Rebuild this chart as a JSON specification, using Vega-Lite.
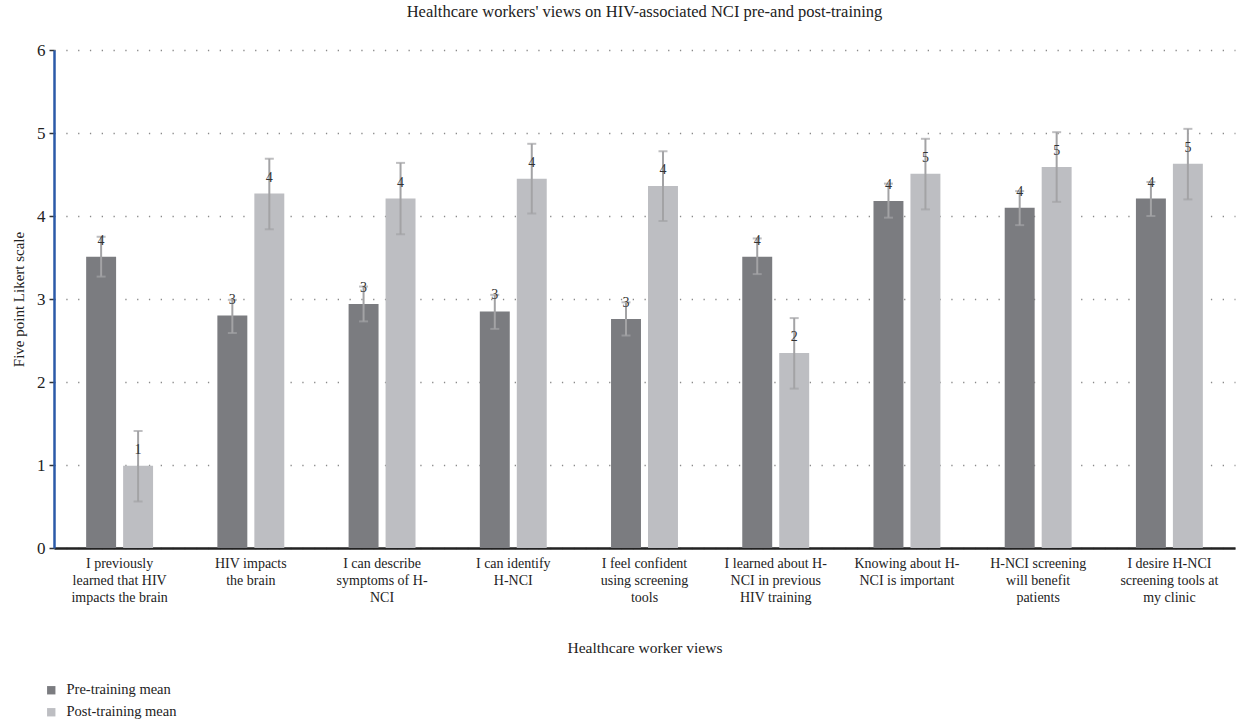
{
  "$schema": "https://vega.github.io/schema/vega-lite/v6.json",
  "autosize": {"type": "none"},
  "padding": {"left": 54, "top": 50, "right": 5, "bottom": 175},
  "width": 1181,
  "height": 498,
  "background": "white",
  "title": {
    "text": "Healthcare workers' views on HIV-associated NCI pre-and post-training",
    "font": "Liberation Serif",
    "fontSize": 16.5,
    "fontWeight": "normal",
    "color": "#222222",
    "anchor": "middle",
    "offset": 21
  },
  "config": {
    "view": {"stroke": null},
    "font": "Liberation Serif"
  },
  "data": {
    "values": [
      {"view": "I previously|learned that HIV|impacts the brain", "phase": "Pre-training mean", "mean": 3.51, "lo": 3.27, "hi": 3.75, "label": "4"},
      {"view": "I previously|learned that HIV|impacts the brain", "phase": "Post-training mean", "mean": 0.99, "lo": 0.56, "hi": 1.41, "label": "1"},
      {"view": "HIV impacts|the brain", "phase": "Pre-training mean", "mean": 2.8, "lo": 2.59, "hi": 2.99, "label": "3"},
      {"view": "HIV impacts|the brain", "phase": "Post-training mean", "mean": 4.27, "lo": 3.84, "hi": 4.69, "label": "4"},
      {"view": "I can describe|symptoms of H-|NCI", "phase": "Pre-training mean", "mean": 2.94, "lo": 2.73, "hi": 3.15, "label": "3"},
      {"view": "I can describe|symptoms of H-|NCI", "phase": "Post-training mean", "mean": 4.21, "lo": 3.78, "hi": 4.64, "label": "4"},
      {"view": "I can identify|H-NCI", "phase": "Pre-training mean", "mean": 2.85, "lo": 2.64, "hi": 3.05, "label": "3"},
      {"view": "I can identify|H-NCI", "phase": "Post-training mean", "mean": 4.45, "lo": 4.03, "hi": 4.87, "label": "4"},
      {"view": "I feel confident|using screening|tools", "phase": "Pre-training mean", "mean": 2.76, "lo": 2.56, "hi": 2.96, "label": "3"},
      {"view": "I feel confident|using screening|tools", "phase": "Post-training mean", "mean": 4.36, "lo": 3.94, "hi": 4.78, "label": "4"},
      {"view": "I learned about H-|NCI in previous|HIV training", "phase": "Pre-training mean", "mean": 3.51, "lo": 3.3, "hi": 3.73, "label": "4"},
      {"view": "I learned about H-|NCI in previous|HIV training", "phase": "Post-training mean", "mean": 2.35, "lo": 1.92, "hi": 2.77, "label": "2"},
      {"view": "Knowing about H-|NCI is important", "phase": "Pre-training mean", "mean": 4.18, "lo": 3.98, "hi": 4.39, "label": "4"},
      {"view": "Knowing about H-|NCI is important", "phase": "Post-training mean", "mean": 4.51, "lo": 4.08, "hi": 4.93, "label": "5"},
      {"view": "H-NCI screening|will benefit|patients", "phase": "Pre-training mean", "mean": 4.1, "lo": 3.89, "hi": 4.3, "label": "4"},
      {"view": "H-NCI screening|will benefit|patients", "phase": "Post-training mean", "mean": 4.59, "lo": 4.17, "hi": 5.01, "label": "5"},
      {"view": "I desire H-NCI|screening tools at|my clinic", "phase": "Pre-training mean", "mean": 4.21, "lo": 4.0, "hi": 4.41, "label": "4"},
      {"view": "I desire H-NCI|screening tools at|my clinic", "phase": "Post-training mean", "mean": 4.63, "lo": 4.2, "hi": 5.05, "label": "5"}
    ]
  },
  "encoding": {
    "x": {
      "field": "view",
      "type": "nominal",
      "sort": null,
      "scale": {"paddingInner": 0.49, "paddingOuter": 0.245},
      "axis": {
        "title": "Healthcare worker views",
        "titleFont": "Liberation Serif",
        "titleFontSize": 15.5,
        "titleFontWeight": "normal",
        "titleColor": "#222222",
        "titlePadding": 36,
        "labelExpr": "split(datum.label, '|')",
        "labelAngle": 0,
        "labelFont": "Liberation Serif",
        "labelFontSize": 14,
        "labelColor": "#222222",
        "labelLineHeight": 17,
        "labelPadding": 8,
        "labelLimit": 200,
        "ticks": false,
        "domainColor": "#222222",
        "domainWidth": 2.5,
        "grid": false
      }
    },
    "xOffset": {
      "field": "phase",
      "type": "nominal",
      "sort": ["Pre-training mean", "Post-training mean"],
      "scale": {"paddingInner": 0.19, "paddingOuter": 0}
    }
  },
  "layer": [
    {
      "mark": {"type": "bar"},
      "encoding": {
        "y": {
          "field": "mean",
          "type": "quantitative",
          "scale": {"domain": [0, 6], "nice": false},
          "axis": {
            "title": "Five point Likert scale",
            "titleFont": "Liberation Serif",
            "titleFontSize": 15,
            "titleFontWeight": "normal",
            "titleColor": "#222222",
            "titlePadding": 10,
            "values": [0, 1, 2, 3, 4, 5, 6],
            "format": "d",
            "labelFont": "Liberation Serif",
            "labelFontSize": 17,
            "labelColor": "#222222",
            "labelPadding": 4,
            "tickSize": 5,
            "tickColor": "#333333",
            "tickWidth": 1.5,
            "domainColor": "#2b5aa8",
            "domainWidth": 2.5,
            "grid": true,
            "gridColor": "#8a8a8a",
            "gridWidth": 1.3,
            "gridDash": [1.3, 10.5]
          }
        },
        "color": {
          "field": "phase",
          "type": "nominal",
          "sort": ["Pre-training mean", "Post-training mean"],
          "scale": {"domain": ["Pre-training mean", "Post-training mean"], "range": ["#7b7c80", "#bdbec2"]},
          "legend": {
            "title": null,
            "orient": "none",
            "legendX": -10,
            "legendY": 633,
            "direction": "vertical",
            "symbolType": "square",
            "symbolSize": 70,
            "symbolStrokeWidth": 0,
            "labelFont": "Liberation Serif",
            "labelFontSize": 14.5,
            "labelColor": "#222222",
            "labelOffset": 8,
            "rowPadding": 7
          }
        }
      }
    },
    {
      "mark": {"type": "rule", "color": "#a3a3a5", "strokeWidth": 2},
      "encoding": {
        "y": {"field": "lo", "type": "quantitative"},
        "y2": {"field": "hi"}
      }
    },
    {
      "mark": {"type": "tick", "color": "#a3a3a5", "thickness": 2, "size": 9},
      "encoding": {
        "y": {"field": "lo", "type": "quantitative"}
      }
    },
    {
      "mark": {"type": "tick", "color": "#a3a3a5", "thickness": 2, "size": 9},
      "encoding": {
        "y": {"field": "hi", "type": "quantitative"}
      }
    },
    {
      "mark": {"type": "text", "font": "Liberation Serif", "fontSize": 14, "color": "#333333", "baseline": "middle", "dy": -16},
      "encoding": {
        "y": {"field": "mean", "type": "quantitative"},
        "text": {"field": "label"}
      }
    }
  ]
}
